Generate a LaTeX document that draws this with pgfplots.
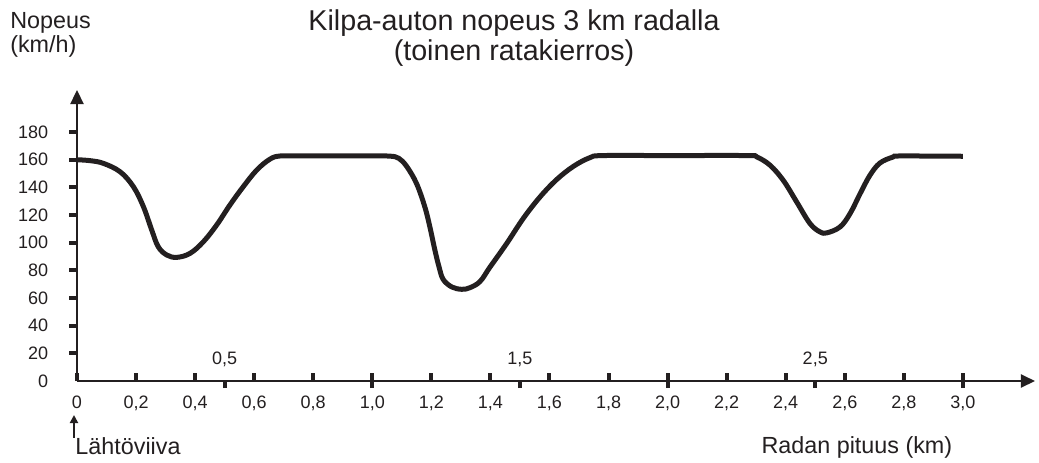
\documentclass[border=0pt]{standalone}
\usepackage{fontspec}
\setmainfont{Liberation Sans}
\usepackage{pgfplots}
\pgfplotsset{compat=1.18}
\usetikzlibrary{arrows.meta}
\definecolor{ink}{RGB}{35,31,32}
\begin{document}
\begin{tikzpicture}
\begin{axis}[
  x=221.475pt, y=1.03725pt,
  xmin=0, xmax=3.244, ymin=0, ymax=210.4,
  axis x line=bottom, axis y line=left,
  axis line style={ink, line width=1.8pt, -{Triangle[length=10.5pt,width=9.75pt]}},
  clip=false,
  xtick align=inside, ytick align=outside,
  major tick length=5.75pt,
  major tick style={ink, line width=3pt},
  xtick={0,0.2,0.4,0.6,0.8,1,1.2,1.4,1.6,1.8,2,2.2,2.4,2.6,2.8,3},
  xticklabels={0,{0,2},{0,4},{0,6},{0,8},{1,0},{1,2},{1,4},{1,6},{1,8},{2,0},{2,2},{2,4},{2,6},{2,8},{3,0}},
  xticklabel style={anchor=base, inner sep=0pt, yshift=-20.25pt},
  extra x ticks={0.5,1,1.5,2,2.5,3},
  extra x tick labels={{0,5},,{1,5},,{2,5},},
  extra x tick style={xtick align=outside, major tick length=5.25pt, xticklabel style={yshift=38.25pt}},
  ytick={20,40,60,80,100,120,140,160,180},
  yticklabels={20,40,60,80,100,120,140,160,180},
  yticklabel style={anchor=east, inner sep=0pt, xshift=-15.75pt},
  extra y ticks={0}, extra y tick labels={0},
  extra y tick style={major tick style={draw=none}},
  tick label style={font=\fontsize{13.5}{16}\selectfont, text=ink},
]
\addplot[ink, line width=3.75pt, smooth, tension=0.6, line join=round] coordinates {
(0,160) (0.045,159.3) (0.089,157.4) (0.146,151.3) (0.191,140.5) (0.225,126)
(0.253,109.2) (0.275,97.1) (0.304,91.1) (0.338,89.4) (0.383,92.3) (0.428,100.7)
(0.473,112.8) (0.518,127.3) (0.563,140.5) (0.609,152.6) (0.654,160.5) (0.688,162.7)
(0.75,162.7) (1.0,162.7) (1.06,162.6) (1.09,161) (1.117,155) (1.150,142.7)
(1.178,125.8) (1.195,111.4) (1.212,94.6) (1.226,82.5) (1.240,73.5) (1.269,68)
(1.303,66.3) (1.331,67.5) (1.365,72) (1.399,82.5) (1.455,99.4) (1.511,117.5)
(1.568,133.1) (1.624,145.6) (1.681,155.2) (1.737,161.5) (1.782,163) (2.0,163)
(2.268,163) (2.302,162) (2.347,156) (2.392,145) (2.437,129.5) (2.482,113.9)
(2.516,107.8) (2.539,107.1) (2.584,111.4) (2.618,121.1) (2.652,135.5) (2.685,148.7)
(2.719,157.6) (2.764,162) (2.787,162.7) (3.0,162.5)
};
\node[anchor=base west, inner sep=0pt, text=ink, font=\fontsize{17.5}{20}\selectfont] at (axis cs:-0.2269,254.9) {Nopeus};
\node[anchor=base west, inner sep=0pt, text=ink, font=\fontsize{17.5}{20}\selectfont] at (axis cs:-0.2269,237.7) {(km/h)};
\node[anchor=base, inner sep=0pt, text=ink, font=\fontsize{21.5}{24}\selectfont] at (axis cs:1.480,253.3) {Kilpa-auton nopeus 3 km radalla};
\node[anchor=base, inner sep=0pt, text=ink, font=\fontsize{21.5}{24}\selectfont] at (axis cs:1.480,231.4) {(toinen ratakierros)};
\node[anchor=base west, inner sep=0pt, text=ink, font=\fontsize{17.5}{20}\selectfont] at (axis cs:-0.006,-53.5) {Lähtöviiva};
\node[anchor=base, inner sep=0pt, text=ink, font=\fontsize{17.5}{20}\selectfont] at (axis cs:2.641,-52.4) {Radan pituus (km)};
\draw[ink, line width=1.5pt, -{Triangle[length=6pt,width=6pt]}] (axis cs:-0.0102,-41.2) -- (axis cs:-0.0102,-24.6);
\coordinate (BL) at (axis cs:-0.26075,-58.57);
\coordinate (TR) at (axis cs:3.2577,275.49);
\end{axis}
\pgfresetboundingbox
\useasboundingbox (BL) rectangle (TR);
\end{tikzpicture}
\end{document}
